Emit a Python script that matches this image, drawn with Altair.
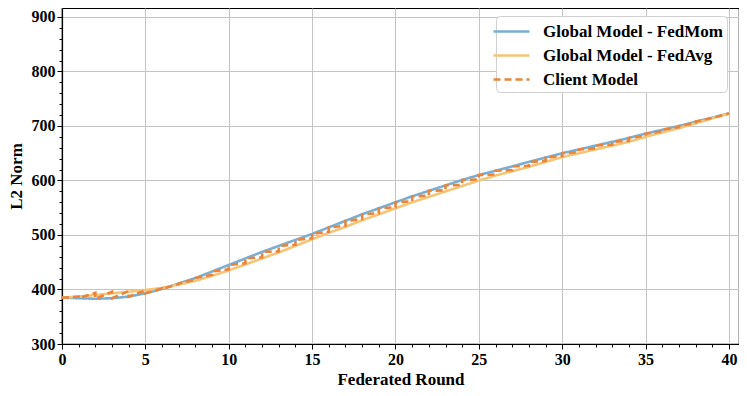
import altair as alt
import pandas as pd

# ---- data ----
rounds = list(range(41))
fedmom = [385, 384, 383, 384, 387, 393, 401, 411, 421, 433, 445,
          457, 469, 480, 491, 502, 514, 526, 538, 549, 560,
          571, 581, 591, 601, 610, 618, 626, 634, 642, 650,
          657, 664, 671, 678, 686, 693, 700, 708, 715, 723]
fedavg = [385, 387, 390, 393, 396, 399, 403, 409, 416, 425, 435,
          446, 457, 468, 480, 492, 504, 515, 527, 538, 549,
          560, 570, 580, 590, 600, 609, 617, 625, 634, 643,
          650, 657, 664, 671, 680, 688, 696, 705, 714, 723]
# client model value at the end of local training in round r (r = 1..40)
client_end = [387, 394, 396, 397, 398, 402, 410, 418, 427, 437,
              448, 459, 470, 482, 494, 506, 517, 529, 540, 551,
              562, 572, 582, 592, 602, 611, 619, 627, 636, 645,
              652, 659, 666, 673, 682, 690, 698, 706, 715, 723]

series_names = ["Global Model - FedMom", "Global Model - FedAvg", "Client Model"]
series_colors = ["#7aafd4", "#f7c475", "#e8843c"]

rows = []
i = 0
for r, v in zip(rounds, fedmom):
    rows.append({"round": r, "norm": v, "series": series_names[0], "idx": i}); i += 1
for r, v in zip(rounds, fedavg):
    rows.append({"round": r, "norm": v, "series": series_names[1], "idx": i}); i += 1
# client path: start at global, train locally, then jump to new global
rows.append({"round": 0, "norm": fedmom[0], "series": series_names[2], "idx": i}); i += 1
for r in range(1, 41):
    rows.append({"round": r, "norm": client_end[r - 1], "series": series_names[2], "idx": i}); i += 1
    rows.append({"round": r, "norm": fedmom[r], "series": series_names[2], "idx": i}); i += 1
df = pd.DataFrame(rows)

x_ticks = list(range(0, 41))
y_ticks = list(range(300, 901, 20))

FONT = "Liberation Serif"

x_axis = alt.Axis(
    title="Federated Round",
    values=x_ticks,
    labelExpr="datum.value % 5 == 0 ? datum.label : ''",
    tickSize={"condition": {"test": "datum.value % 5 == 0", "value": 5}, "value": 3},
    gridOpacity={"condition": {"test": "datum.value % 5 == 0", "value": 1}, "value": 0},
    labelFlush=False,
    labelOverlap=False,
)
y_axis = alt.Axis(
    title="L2 Norm",
    values=y_ticks,
    labelExpr="datum.value % 100 == 0 ? datum.label : ''",
    tickSize={"condition": {"test": "datum.value % 100 == 0", "value": 5}, "value": 3},
    gridOpacity={"condition": {"test": "datum.value % 100 == 0", "value": 1}, "value": 0},
    labelFlush=False,
    labelOverlap=False,
)

chart = alt.Chart(df).mark_line().encode(
    x=alt.X("round:Q", scale=alt.Scale(domain=[0, 40.6], nice=False, zero=False), axis=x_axis),
    y=alt.Y("norm:Q", scale=alt.Scale(domain=[300, 916.5], nice=False, zero=False), axis=y_axis),
    color=alt.Color("series:N", scale=alt.Scale(domain=series_names, range=series_colors),
                    legend=alt.Legend(title=None)),
    strokeDash=alt.StrokeDash("series:N",
                              scale=alt.Scale(domain=series_names, range=[[1, 0], [1, 0], [7, 4]]),
                              legend=alt.Legend(title=None)),
    strokeWidth=alt.StrokeWidth("series:N",
                                scale=alt.Scale(domain=series_names, range=[2.6, 2.6, 2.0]),
                                legend=None),
    order=alt.Order("idx:Q"),
).properties(
    width=677,
    height=336,
    autosize=alt.AutoSizeParams(type="none"),
    padding={"left": 54, "top": 0, "right": 0, "bottom": 44},
).configure_view(
    stroke="black", strokeWidth=1.2
).configure_axis(
    domainColor="black",
    domainWidth=1.2,
    tickColor="black",
    tickWidth=1,
    gridColor="#c4c4c4",
    gridWidth=1,
    labelFont=FONT,
    labelFontWeight="bold",
    labelFontSize=16,
    labelColor="black",
    titleFont=FONT,
    titleFontWeight="bold",
    titleFontSize=17,
    titleColor="black",
).configure_axisX(
    labelPadding=2, titlePadding=4
).configure_axisY(
    labelPadding=2, titlePadding=6
).configure_legend(
    orient="none",
    legendX=434,
    legendY=8,
    fillColor="white",
    strokeColor="#d0d0d0",
    cornerRadius=4,
    padding=4,
    symbolType="M-1.8,0H1.8",
    symbolSize=400,
    symbolStrokeWidth=2.5,
    labelFont=FONT,
    labelFontWeight="bold",
    labelFontSize=17,
    labelColor="black",
    labelOffset=20,
    labelLimit=300,
    rowPadding=4,
)

chart.save("out.html", embed_options={"renderer": "svg", "actions": False})
